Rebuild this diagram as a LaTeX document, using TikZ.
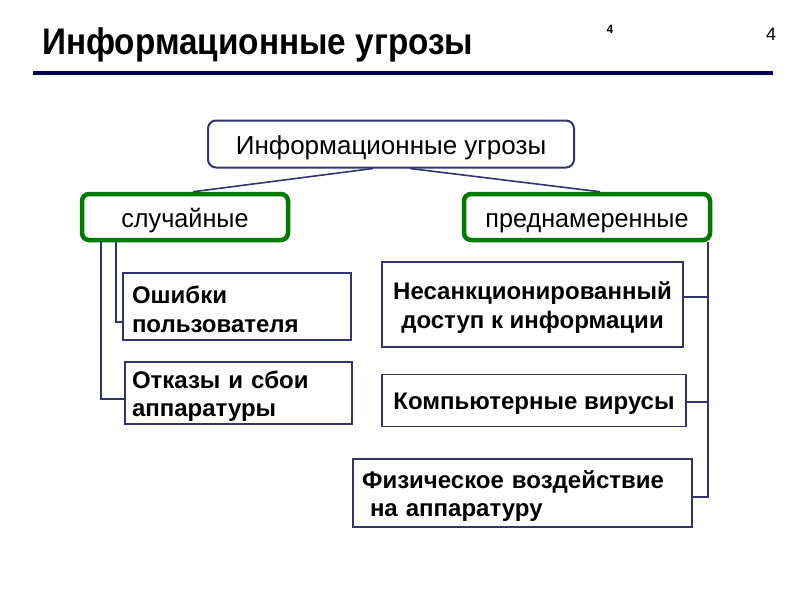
\documentclass[tikz,border=0pt]{standalone}
\usepackage{fontspec}
\setmainfont{Liberation Sans}
\usetikzlibrary{calc}
\definecolor{navy}{HTML}{33336E}
\definecolor{rule}{HTML}{000055}
\definecolor{grn}{HTML}{007A00}
\tikzset{
  topbox/.style={draw=navy, line width=2pt, rounded corners=8pt, minimum width=366pt, minimum height=47pt, text height=22pt, text depth=2pt, font=\fontsize{26}{30}\selectfont},
  catbox/.style={draw=grn, line width=4.5pt, rounded corners=7pt, minimum height=46pt, text height=22pt, text depth=2pt, font=\fontsize{26}{30}\selectfont},
  leafbox/.style={draw=navy, line width=1.6pt, inner sep=0pt},
  leaftext/.style={inner sep=0pt, font=\bfseries\fontsize{24}{28.5}\selectfont},
  conn/.style={draw=navy, line width=1.6pt},
}
\begin{document}
\begin{tikzpicture}[x=1pt,y=-1pt]
\useasboundingbox (0,0) rectangle (800,600);
% title
\node[anchor=west, inner sep=0pt, font=\bfseries\fontsize{37}{40}\selectfont] (title) at (42,45) {\scalebox{0.9}[1]{Информационные угрозы}};
\node[inner sep=0pt, font=\bfseries\fontsize{12}{14}\selectfont] (n1) at (610,29) {4};
\node[inner sep=0pt, font=\fontsize{18}{20}\selectfont] (n2) at (771,34) {4};
\coordinate (r1) at (33,73);
\coordinate (r2) at (773,73);
\draw[rule, line width=3.5pt] (r1) -- (r2);
% top box
\node[topbox] (top) at (391,144) {Информационные угрозы};
% categories
\node[catbox, minimum width=206pt] (L) at (185,217) {\scalebox{0.97}[1]{случайные}};
\node[catbox, minimum width=246pt] (R) at (587,217) {\scalebox{0.97}[1]{преднамеренные}};
% leaves (boxes)
\node[leafbox, minimum width=228pt, minimum height=67pt] (e1) at (237,306.5) {};
\node[leafbox, minimum width=227pt, minimum height=62pt] (e2) at (238.5,393) {};
\node[leafbox, minimum width=301pt, minimum height=85pt] (u1) at (532.5,304.5) {};
\node[leafbox, minimum width=304pt, minimum height=52pt] (u2) at (534,400.5) {};
\node[leafbox, minimum width=339pt, minimum height=68pt] (u3) at (522.5,493) {};
% leaves (texts)
\node[leaftext, align=left, text width=210pt] (e1t) at ($(e1.center)+(0,3)$) {Ошибки\\пользователя};
\node[leaftext, align=left, text width=213pt] (e2t) at ($(e2.center)+(0,3)$) {Отказы и сбои\\аппаратуры};
\node[leaftext, align=center] (u1t) at ($(u1.center)+(0,3)$) {Несанкционированный\\доступ к информации};
\node[leaftext] (u2t) at ($(u2.center)+(0,3)$) {Компьютерные вирусы};
\node[leaftext, align=left, text width=321pt] (u3t) at ($(u3.center)+(0,3)$) {Физическое воздействие\\\ на аппаратуру};
% connectors from top
\draw[conn] ($(top.south)+(-18,0)$) -- ($(L.north)+(8,0)$);
\draw[conn] ($(top.south)+(19,0)$) -- ($(R.north)+(13,0)$);
% left tree
\coordinate (la) at ($(L.south west)+(21,0)$);
\coordinate (lb) at ($(L.south west)+(36,0)$);
\draw[conn] (lb) |- (e1.west |- 0,322);
\draw[conn] (la) |- (e2.west |- 0,399);
% right tree
\coordinate (ra) at ($(R.south east)+(-4,0)$);
\draw[conn] (ra) |- (u3.east |- 0,497);
\draw[conn] (u1.east |- 0,297) -- (ra |- 0,297);
\draw[conn] (u2.east |- 0,402) -- (ra |- 0,402);
\end{tikzpicture}
\end{document}
